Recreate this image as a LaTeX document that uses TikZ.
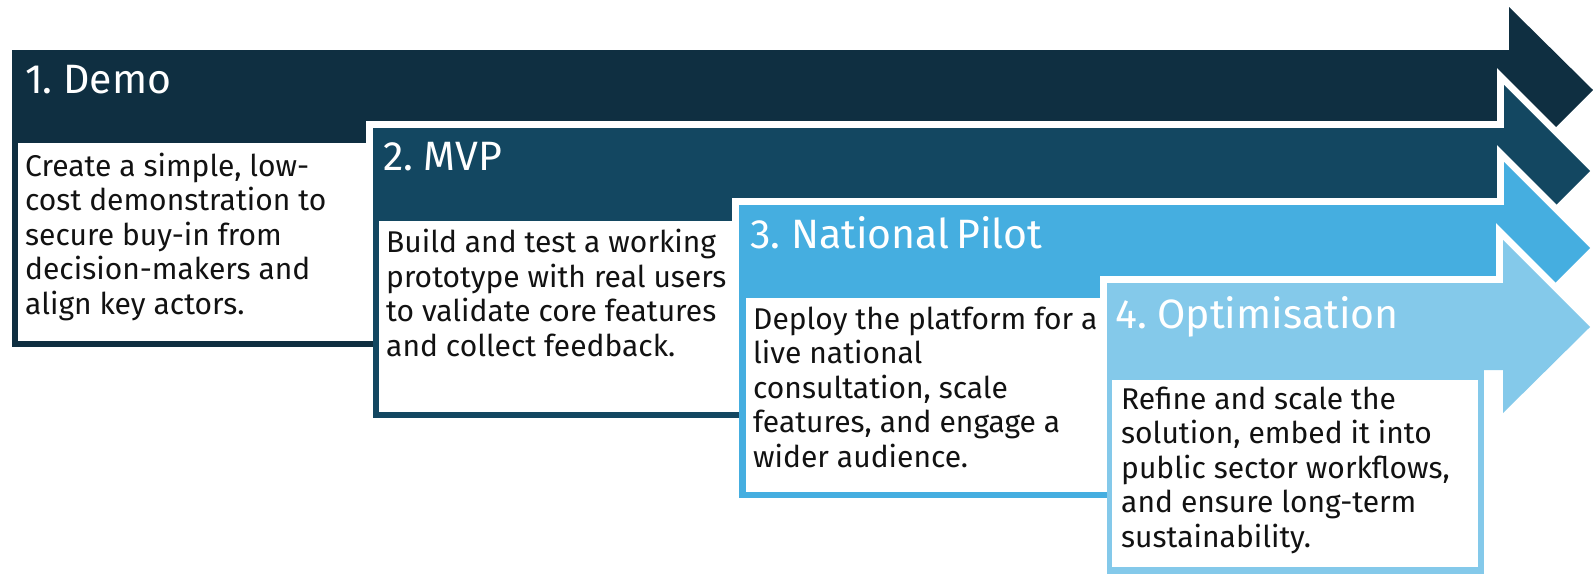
\documentclass[tikz,border=0pt]{standalone}
\usepackage{fontspec}
\setmainfont{Fira Sans}[Numbers=Proportional]
\definecolor{cA}{HTML}{0F2F41}
\definecolor{cB}{HTML}{134761}
\definecolor{cC}{HTML}{45AEE0}
\definecolor{cD}{HTML}{84C9EA}
\definecolor{ink}{HTML}{121212}
\newcommand\myheadfont{\fontsize{41}{48}\selectfont\spaceskip=0.17em\relax}
\begin{document}
\begin{tikzpicture}[x=1pt,y=-1pt,
  headtxt/.style={anchor=base west, inner sep=0pt, text=white, font=\myheadfont},
  bodytxt/.style={anchor=base west, inner sep=0pt, text=ink, align=left, font=\fontsize{30}{34.5}\selectfont},
  halo/.style={draw=white, line width=14pt, line join=miter, fill=white},
]
\useasboundingbox (0,0) rectangle (1593,573);
% stage 1
\fill[cA] (12,50) -- (1509,50) -- (1509,7) -- (1593,90) -- (1509,174) -- (1509,130) -- (12,130) -- cycle;
\fill[cA] (12,130) rectangle (389,347);
\fill[white] (18,143) rectangle (383,341);
% stage 2
\path[halo] (373,128) -- (1504,128) -- (1504,85) -- (1590,171) -- (1504,257) -- (1504,214) -- (373,214) -- cycle;
\fill[cB] (373,128) -- (1504,128) -- (1504,85) -- (1590,171) -- (1504,257) -- (1504,214) -- (373,214) -- cycle;
\fill[cB] (373,214) rectangle (750,418);
\fill[white] (379,221) rectangle (744,412);
% stage 3
\path[halo] (739,205) -- (1504,205) -- (1504,162) -- (1590,248) -- (1504,334) -- (1504,291) -- (739,291) -- cycle;
\fill[cC] (739,205) -- (1504,205) -- (1504,162) -- (1590,248) -- (1504,334) -- (1504,291) -- (739,291) -- cycle;
\fill[cC] (739,291) rectangle (1116,498);
\fill[white] (746,298) rectangle (1110,492);
% stage 4
\path[halo] (1107,283) -- (1503,283) -- (1503,240) -- (1590,327) -- (1503,413) -- (1503,370) -- (1107,370) -- cycle;
\fill[cD] (1107,283) -- (1503,283) -- (1503,240) -- (1590,327) -- (1503,413) -- (1503,370) -- (1107,370) -- cycle;
\fill[cD] (1107,370) rectangle (1484,580);
\fill[white] (1112,380) rectangle (1478,567);
% texts
\node[headtxt] (h1) at (25,93) {1. Demo};
\node[headtxt] (h2) at (383,170) {2. MVP};
\node[headtxt] (h3) at (750,248) {3. National Pilot};
\node[headtxt] (h4) at (1115,328) {4. Optimisation};
% body nodes: anchor is the baseline of the last line
\node[bodytxt] (b1) at (25,314) {Create a simple, low-\\cost demonstration to\\secure buy-in from\\decision-makers and\\align key actors.};
\node[bodytxt] (b2) at (386,356) {Build and test a working\\prototype with real users\\to validate core features\\and collect feedback.};
\node[bodytxt] (b3) at (753,467) {Deploy the platform for a\\live national\\consultation, scale\\features, and engage a\\wider audience.};
\node[bodytxt] (b4) at (1121,547) {Refine and scale the\\solution, embed it into\\public sector workflows,\\and ensure long-term\\sustainability.};
\end{tikzpicture}
\end{document}
